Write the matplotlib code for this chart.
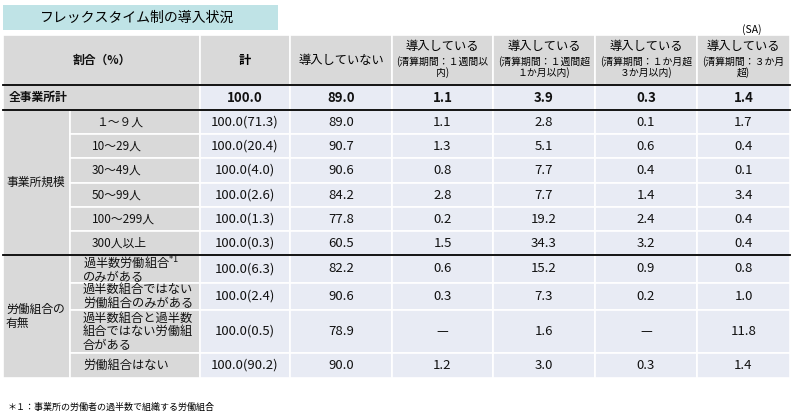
import matplotlib.pyplot as plt
from matplotlib.patches import Rectangle

plt.rcParams['font.family'] = 'Noto Sans CJK JP'

title = 'フレックスタイム制の導入状況'
headers = ['計', '導入していない',
           '導入している\n(清算期間：１週間以\n内)',
           '導入している\n(清算期間：１週間超\n１か月以内)',
           '導入している\n(清算期間：１か月超\n３か月以内)',
           '導入している\n(清算期間：３か月\n超)']
total_label = '全事業所計'
total_values = ['100.0', '89.0', '1.1', '3.9', '0.3', '1.4']
size_label = '事業所規模'
size_cats = ['１～９人', '10～29人', '30～49人', '50～99人', '100～299人', '300人以上']
size_values = [
    ['100.0(71.3)', '89.0', '1.1', '2.8', '0.1', '1.7'],
    ['100.0(20.4)', '90.7', '1.3', '5.1', '0.6', '0.4'],
    ['100.0(4.0)', '90.6', '0.8', '7.7', '0.4', '0.1'],
    ['100.0(2.6)', '84.2', '2.8', '7.7', '1.4', '3.4'],
    ['100.0(1.3)', '77.8', '0.2', '19.2', '2.4', '0.4'],
    ['100.0(0.3)', '60.5', '1.5', '34.3', '3.2', '0.4'],
]
union_label = '労働組合の\n有無'
union_cats = ['過半数労働組合$^{*1}$\nのみがある', '過半数組合ではない\n労働組合のみがある',
              '過半数組合と過半数\n組合ではない労働組\n合がある', '労働組合はない']
union_values = [
    ['100.0(6.3)', '82.2', '0.6', '15.2', '0.9', '0.8'],
    ['100.0(2.4)', '90.6', '0.3', '7.3', '0.2', '1.0'],
    ['100.0(0.5)', '78.9', '—', '1.6', '—', '11.8'],
    ['100.0(90.2)', '90.0', '1.2', '3.0', '0.3', '1.4'],
]
footnote = '＊１：事業所の労働者の過半数で組織する労働組合'

GRAY = '#d9d9d9'
CELL = '#e8ebf4'
col_x = [3, 70, 200, 290, 392, 493, 595, 697, 790]
size_y = [110, 134, 158, 183, 207, 231, 255]
union_y = [255, 283, 310, 353, 378]

fig = plt.figure(figsize=(8, 4.17), dpi=100)
ax = fig.add_axes([0, 0, 1, 1])
ax.set_xlim(0, 800)
ax.set_ylim(417, 0)
ax.axis('off')


def cell(x0, x1, y0, y1, color, text='', ha='center', size=8.5, bold=False, pad=6):
    ax.add_patch(Rectangle((x0, y0), x1 - x0, y1 - y0, facecolor=color,
                           edgecolor='white', linewidth=1.2))
    if text:
        tx = (x0 + x1) / 2 if ha == 'center' else x0 + pad
        ax.text(tx, (y0 + y1) / 2, text, ha=ha, va='center', fontsize=size,
                fontweight='bold' if bold else 'normal', linespacing=1.05,
                color='#111111')


# title box
ax.add_patch(Rectangle((3, 5), 275, 25, facecolor='#bfe3e6', edgecolor='none'))
ax.text(40, 17.5, title, ha='left', va='center', fontsize=10)
ax.text(752, 30, '(SA)', ha='center', va='center', fontsize=7.5)

# header
cell(col_x[0], col_x[2], 35, 85, GRAY, '割合（%）', bold=True, size=8.5)
for i, h in enumerate(headers):
    first, rest = h.split('\n', 1) if '\n' in h else (h, '')
    cell(col_x[i + 2], col_x[i + 3], 35, 85, GRAY)
    cx = (col_x[i + 2] + col_x[i + 3]) / 2
    if rest:
        ax.text(cx, 46, first, ha='center', va='center', fontsize=8.8)
        ax.text(cx, 67, rest, ha='center', va='center', fontsize=7.1, linespacing=1.0)
    else:
        ax.text(cx, 60, first, ha='center', va='center', fontsize=8.8,
                fontweight='bold' if i == 0 else 'normal')

# total row
cell(col_x[0], col_x[2], 85, 110, GRAY, total_label, ha='left', bold=True)
for i, v in enumerate(total_values):
    cell(col_x[i + 2], col_x[i + 3], 85, 110, CELL, v, bold=True, size=9.5)

# size rows
cell(col_x[0], col_x[1], size_y[0], size_y[-1], GRAY, size_label, ha='left', pad=3)
for r, (lab, vals) in enumerate(zip(size_cats, size_values)):
    y0, y1 = size_y[r], size_y[r + 1]
    cell(col_x[1], col_x[2], y0, y1, GRAY, lab, ha='left', pad=26 if r == 0 else 22)
    for i, v in enumerate(vals):
        cell(col_x[i + 2], col_x[i + 3], y0, y1, CELL, v, size=9.5)

# union rows
cell(col_x[0], col_x[1], union_y[0], union_y[-1], GRAY, union_label, ha='left', pad=3)
for r, (lab, vals) in enumerate(zip(union_cats, union_values)):
    y0, y1 = union_y[r], union_y[r + 1]
    cell(col_x[1], col_x[2], y0, y1, GRAY, lab, ha='left', pad=13, size=8.8)
    for i, v in enumerate(vals):
        cell(col_x[i + 2], col_x[i + 3], y0, y1, CELL, v, size=9.5)

for y in (85, 110, 255):
    ax.plot([col_x[0], col_x[-1]], [y, y], color='black', lw=1.3)

ax.text(8, 407, footnote, ha='left', va='center', fontsize=6.5)

fig.savefig('out.png', dpi=100)
